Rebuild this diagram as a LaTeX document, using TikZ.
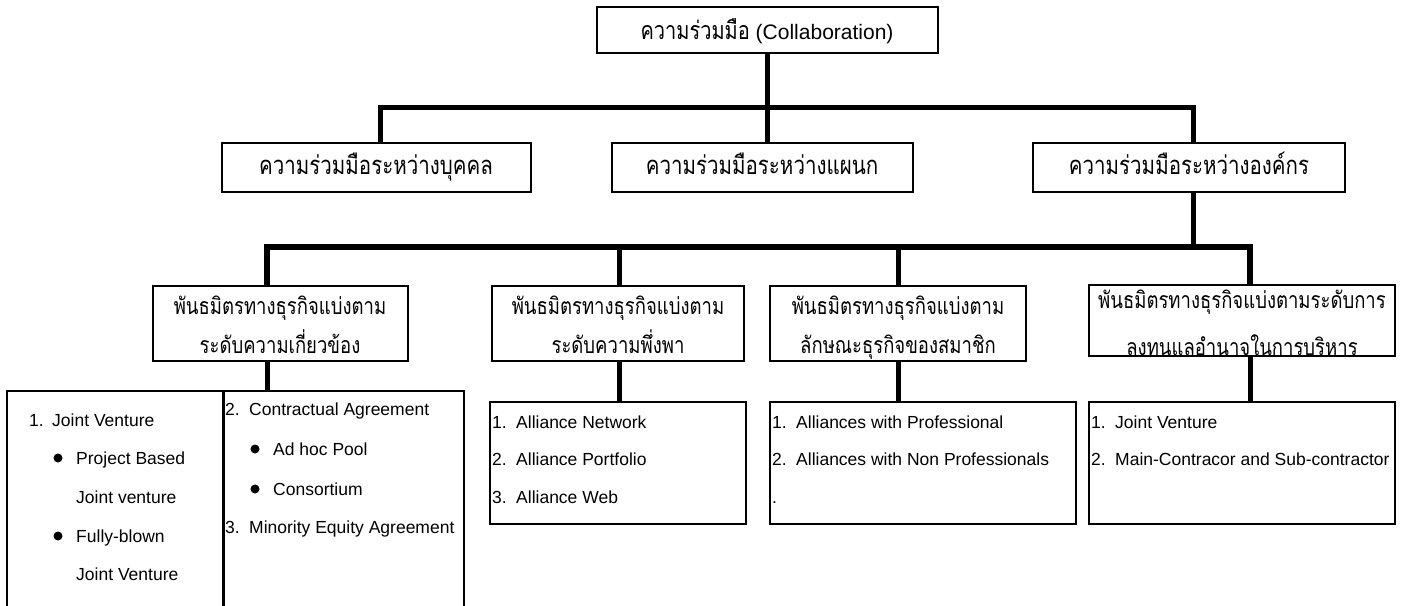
\documentclass[tikz,border=0pt]{standalone}
\usepackage{fontspec}
\usepackage{graphicx}
\setmainfont{Liberation Sans}
\newfontfamily\thaifont[Script=Thai]{Loma}
\usetikzlibrary{calc}

% Thai text, set a little taller than wide
\newcommand\thaitall[1]{\scalebox{1}[1.25]{\thaifont #1}}

\begin{document}
\begin{tikzpicture}[x=1pt,y=-1pt,
  box/.style={draw, line width=2.5pt, inner sep=0pt, outer sep=0pt, anchor=north west},
  link/.style={line width=5pt},
  bus/.style={line width=6pt},
  headtwo/.style={font=\fontsize{20.5}{24}\selectfont, anchor=base, inner sep=0pt},
  headthree/.style={font=\fontsize{18.5}{22}\selectfont, anchor=base, inner sep=0pt},
  item/.style={font=\fontsize{17.5}{21}\selectfont, anchor=base west, inner sep=0pt},
  dot/.style={circle, fill=black, inner sep=0pt, minimum size=9pt}]

\useasboundingbox (0,0) rectangle (1408,605);
\clip (0,0) rectangle (1408,605);

% ---- boxes (north-west corner, width, height) ----
\node[box, minimum width=341pt, minimum height=46pt] (top) at (597,7) {};
\node[box, minimum width=309pt, minimum height=49pt] (A) at (222,143) {};
\node[box, minimum width=301pt, minimum height=49pt] (B) at (612,143) {};
\node[box, minimum width=312pt, minimum height=49pt] (C) at (1033,143) {};

\node[box, minimum width=255pt, minimum height=75pt] (D) at (153,286) {};
\node[box, minimum width=252pt, minimum height=75pt] (E) at (492,286) {};
\node[box, minimum width=256pt, minimum height=75pt] (F) at (770,286) {};
\node[box, minimum width=306pt, minimum height=71pt] (G) at (1089,285) {};

\node[box, minimum width=216pt, minimum height=240pt] (D1) at (7,391) {};
\node[box, minimum width=240pt, minimum height=240pt] (D2) at (224,391) {};
\node[box, minimum width=256pt, minimum height=122pt] (El) at (490,402) {};
\node[box, minimum width=306pt, minimum height=122pt] (Fl) at (770,402) {};
\node[box, minimum width=306pt, minimum height=122pt] (Gl) at (1089,402) {};

% ---- connectors ----
\coordinate (b1L) at (380,107);
\coordinate (b1R) at (1193,107);
\draw[link] (top.south) -- (top.south |- B.north);
\draw[link] (b1L |- A.north) -- (b1L) -- (b1R) -- (b1R |- C.north);

\coordinate (b2L) at (267,247);
\coordinate (b2E) at (619,247);
\coordinate (b2F) at (898,247);
\coordinate (b2C) at (1193,247);
\coordinate (b2R) at (1250,247);
\draw[link] (C.south -| b2C) -- (b2C);
\draw[bus] (b2L |- D.north) -- (b2L) -- (b2R) -- (b2R |- G.north);
\draw[link] (b2E) -- (b2E |- E.north);
\draw[link] (b2F) -- (b2F |- F.north);

\draw[link] (D.south -| b2L) -- (b2L |- D1.north);
\draw[link] (E.south -| b2E) -- (b2E |- El.north);
\draw[link] (F.south -| b2F) -- (b2F |- Fl.north);
\draw[link] (G.south -| b2R) -- (b2R |- Gl.north);

% ---- headings ----
\node[inner sep=0pt, anchor=base, font=\fontsize{21}{25}\selectfont] (topt) at (767,39)
  {\thaitall{\fontsize{20}{24}\selectfont ความร่วมมือ} (Collaboration)};
\node[headtwo] (At) at (376,174) {\thaitall{ความร่วมมือระหว่างบุคคล}};
\node[headtwo] (Bt) at (762,174) {\thaitall{ความร่วมมือระหว่างแผนก}};
\node[headtwo] (Ct) at (1189,174) {\thaitall{ความร่วมมือระหว่างองค์กร}};

\node[headthree] (Dt1) at (280,314) {\thaitall{พันธมิตรทางธุรกิจแบ่งตาม}};
\node[headthree] (Dt2) at (280,353) {\thaitall{ระดับความเกี่ยวข้อง}};
\node[headthree] (Et1) at (618,314) {\thaitall{พันธมิตรทางธุรกิจแบ่งตาม}};
\node[headthree] (Et2) at (618,353) {\thaitall{ระดับความพึ่งพา}};
\node[headthree] (Ft1) at (898,314) {\thaitall{พันธมิตรทางธุรกิจแบ่งตาม}};
\node[headthree] (Ft2) at (898,353) {\thaitall{ลักษณะธุรกิจของสมาชิก}};
\node[headthree] (Gt1) at (1242,308) {\thaitall{พันธมิตรทางธุรกิจแบ่งตามระดับการ}};
\begin{scope}
  \clip (G.north west) rectangle (G.south east);
  \node[headthree] (Gt2) at (1242,355) {\thaitall{ลงทุนแลอำนาจในการบริหาร}};
\end{scope}
\draw[line width=2.5pt] (G.south west) -- (G.south east);

% ---- lists ----
\node[item] (d1n) at (29,426) {1.};
\node[item] (d1a) at (52,426) {Joint Venture};
\node[dot] (d1p) at (58,458) {};
\node[item] (d1b) at (76,464) {Project Based};
\node[item] (d1c) at (76,503) {Joint venture};
\node[dot] (d1q) at (58,536) {};
\node[item] (d1d) at (76,542) {Fully-blown};
\node[item] (d1e) at (76,580) {Joint Venture};

\node[item] (d2n) at (225,415) {2.};
\node[item] (d2a) at (249,415) {Contractual Agreement};
\node[dot] (d2p) at (255,449) {};
\node[item] (d2b) at (273,455) {Ad hoc Pool};
\node[dot] (d2q) at (255,489) {};
\node[item] (d2c) at (273,495) {Consortium};
\node[item] (d2m) at (225,533) {3.};
\node[item] (d2d) at (249,533) {Minority Equity Agreement};

\node[item] (e1n) at (492,428) {1.};
\node[item] (e1) at (516,428) {Alliance Network};
\node[item] (e2n) at (492,465) {2.};
\node[item] (e2) at (516,465) {Alliance Portfolio};
\node[item] (e3n) at (492,503) {3.};
\node[item] (e3) at (516,503) {Alliance Web};

\node[item] (f1n) at (772,428) {1.};
\node[item] (f1) at (796,428) {Alliances with Professional};
\node[item] (f2n) at (772,465) {2.};
\node[item] (f2) at (796,465) {Alliances with Non Professionals};
\node[item] (f3) at (772,503) {.};

\node[item] (g1n) at (1091,428) {1.};
\node[item] (g1) at (1115,428) {Joint Venture};
\node[item] (g2n) at (1091,465) {2.};
\node[item] (g2) at (1115,465) {Main-Contracor and Sub-contractor};

\end{tikzpicture}
\end{document}
